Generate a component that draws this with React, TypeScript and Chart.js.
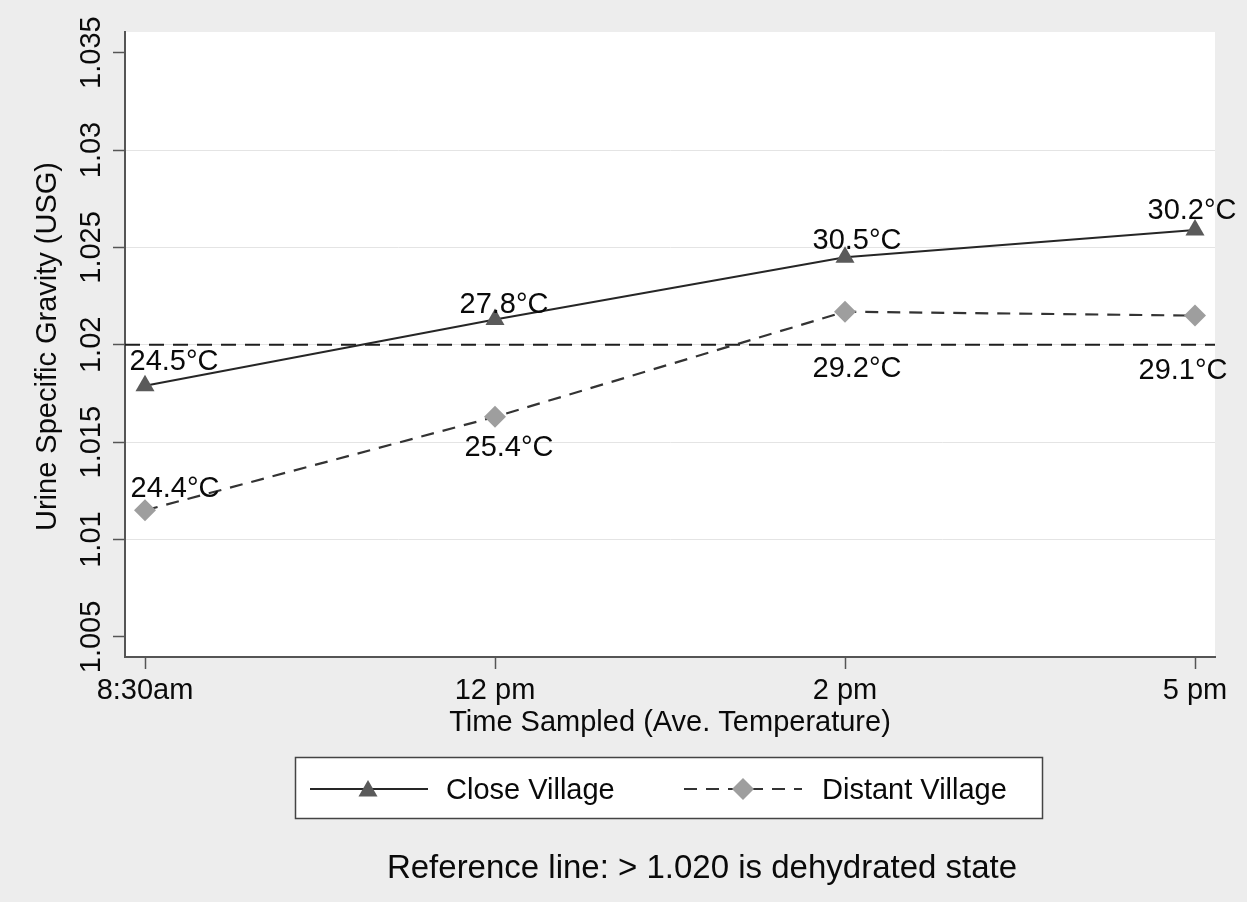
import React, { useEffect, useRef } from 'react';
import { Chart, registerables } from 'chart.js';

Chart.register(...registerables);

// ---------- data ----------
const categories = ['8:30am', '12 pm', '2 pm', '5 pm'];
const closeVillage = [1.0179, 1.0213, 1.0245, 1.0259];
const distantVillage = [1.0115, 1.0163, 1.0217, 1.0215];
const closeTemps = ['24.5°C', '27.8°C', '30.5°C', '30.2°C'];
const distantTemps = ['24.4°C', '25.4°C', '29.2°C', '29.1°C'];
const yTicks = [1.005, 1.01, 1.015, 1.02, 1.025, 1.03, 1.035];
const yTickLabels = ['1.005', '1.01', '1.015', '1.02', '1.025', '1.03', '1.035'];
const referenceValue = 1.02;
const seriesNames = ['Close Village', 'Distant Village'];
const xTitle = 'Time Sampled (Ave. Temperature)';
const yTitle = 'Urine Specific Gravity (USG)';
const noteText = 'Reference line: > 1.020 is dehydrated state';

// ---------- style ----------
const FONT = "'Liberation Sans', Arial, Helvetica, sans-serif";
const FS = 29;
const NOTE_FS = 33;
const BG = '#ededed';
const TEXT = '#0a0a0a';
const AXIS = '#555555';
const GRID = '#e4e4e4';
const CLOSE_LINE = '#262626';
const CLOSE_MARK = '#5a5a5a';
const DIST_LINE = '#333333';
const DIST_MARK = '#9e9e9e';
const SERIES_DASH = [13, 9];
const REF_DASH = [15, 9];
const closeLabelOffsets = [[29, -16], [9, -6], [12, -8], [-3, -11]];
const distantLabelOffsets = [[30, -13], [14, 39], [12, 65], [-12, 63]];

function drawTriangle(ctx: CanvasRenderingContext2D, x: number, y: number, r: number) {
  ctx.beginPath();
  for (let i = 0; i < 3; i++) {
    const a = (i * 2 * Math.PI) / 3;
    const px = x + Math.sin(a) * r;
    const py = y - Math.cos(a) * r;
    if (i === 0) ctx.moveTo(px, py);
    else ctx.lineTo(px, py);
  }
  ctx.closePath();
  ctx.fill();
}

function drawDiamond(ctx: CanvasRenderingContext2D, x: number, y: number, r: number) {
  ctx.beginPath();
  ctx.moveTo(x, y - r);
  ctx.lineTo(x + r, y);
  ctx.lineTo(x, y + r);
  ctx.lineTo(x - r, y);
  ctx.closePath();
  ctx.fill();
}

const decorPlugin = {
  id: 'decor',
  beforeDraw(chart: any) {
    const { ctx, chartArea: a, width, height } = chart;
    ctx.save();
    ctx.fillStyle = BG;
    ctx.fillRect(0, 0, width, height);
    ctx.fillStyle = '#ffffff';
    ctx.fillRect(a.left, a.top, a.right - a.left, a.bottom - a.top);
    ctx.restore();
  },
  beforeDatasetsDraw(chart: any) {
    const { ctx, chartArea: a } = chart;
    const y = chart.scales.y.getPixelForValue(referenceValue);
    ctx.save();
    ctx.strokeStyle = '#1e1e1e';
    ctx.lineWidth = 2;
    ctx.setLineDash(REF_DASH);
    ctx.beginPath();
    ctx.moveTo(a.left, y);
    ctx.lineTo(a.right, y);
    ctx.stroke();
    ctx.restore();
  },
  afterDraw(chart: any) {
    const { ctx, chartArea: a } = chart;
    const xs = chart.scales.x;
    const ys = chart.scales.y;
    ctx.save();
    ctx.fillStyle = TEXT;
    ctx.font = `${FS}px ${FONT}`;

    // point labels
    ctx.textAlign = 'center';
    ctx.textBaseline = 'alphabetic';
    const m0 = chart.getDatasetMeta(0).data;
    const m1 = chart.getDatasetMeta(1).data;
    m0.forEach((p: any, i: number) => {
      ctx.fillText(closeTemps[i], p.x + closeLabelOffsets[i][0], p.y + closeLabelOffsets[i][1]);
    });
    m1.forEach((p: any, i: number) => {
      ctx.fillText(distantTemps[i], p.x + distantLabelOffsets[i][0], p.y + distantLabelOffsets[i][1]);
    });

    // x tick labels
    categories.forEach((c, i) => {
      ctx.fillText(c, xs.getPixelForValue(i), a.bottom + 42);
    });
    // x title
    ctx.fillText(xTitle, (a.left + a.right) / 2, a.bottom + 74);

    // y tick labels (rotated)
    yTicks.forEach((v, i) => {
      ctx.save();
      ctx.translate(a.left - 25, ys.getPixelForValue(v));
      ctx.rotate(-Math.PI / 2);
      ctx.fillText(yTickLabels[i], 0, 0);
      ctx.restore();
    });
    // y title
    ctx.save();
    ctx.translate(a.left - 69, (a.top + a.bottom) / 2 + 2);
    ctx.rotate(-Math.PI / 2);
    ctx.fillText(yTitle, 0, 0);
    ctx.restore();

    // legend box
    const lx = 295, ly = 757, lw = 747, lh = 61;
    ctx.fillStyle = '#ffffff';
    ctx.fillRect(lx, ly, lw, lh);
    ctx.strokeStyle = '#444444';
    ctx.lineWidth = 1.5;
    ctx.strokeRect(lx + 0.5, ly + 0.5, lw, lh);
    const cy = ly + 32;
    // entry 1
    ctx.strokeStyle = CLOSE_LINE;
    ctx.lineWidth = 2;
    ctx.beginPath();
    ctx.moveTo(310, cy);
    ctx.lineTo(428, cy);
    ctx.stroke();
    ctx.fillStyle = CLOSE_MARK;
    drawTriangle(ctx, 368, cy + 2, 11);
    // entry 2
    ctx.strokeStyle = DIST_LINE;
    ctx.setLineDash(SERIES_DASH);
    ctx.beginPath();
    ctx.moveTo(684, cy);
    ctx.lineTo(802, cy);
    ctx.stroke();
    ctx.setLineDash([]);
    ctx.fillStyle = DIST_MARK;
    drawDiamond(ctx, 743, cy, 11);

    ctx.fillStyle = TEXT;
    ctx.textAlign = 'left';
    ctx.fillText(seriesNames[0], 446, cy + 10);
    ctx.fillText(seriesNames[1], 822, cy + 10);

    // note
    ctx.textAlign = 'center';
    ctx.font = `${NOTE_FS}px ${FONT}`;
    ctx.fillText(noteText, 702, 878);
    ctx.restore();
  },
};

export default function App() {
  const ref = useRef<HTMLCanvasElement | null>(null);

  useEffect(() => {
    if (!ref.current) return;
    const xMin = -20 / 350;
    const xMax = 3 + 20 / 350;
    const yMin = 1.00397;
    const yMax = 1.03606;
    const chart = new Chart(ref.current, {
      type: 'line',
      data: {
        datasets: [
          {
            label: seriesNames[0],
            data: closeVillage.map((v, i) => ({ x: i, y: v })),
            borderColor: CLOSE_LINE,
            borderWidth: 2,
            pointStyle: 'triangle',
            pointRadius: 11,
            pointBackgroundColor: CLOSE_MARK,
            pointBorderWidth: 0,
            tension: 0,
          },
          {
            label: seriesNames[1],
            data: distantVillage.map((v, i) => ({ x: i, y: v })),
            borderColor: DIST_LINE,
            borderWidth: 2.2,
            borderDash: SERIES_DASH,
            pointStyle: 'rectRot',
            pointRadius: 11,
            pointBackgroundColor: DIST_MARK,
            pointBorderWidth: 0,
            tension: 0,
          },
        ],
      },
      options: {
        responsive: false,
        maintainAspectRatio: false,
        animation: false,
        devicePixelRatio: 1,
        layout: { padding: { left: 113, top: 32, right: 32, bottom: 233 } },
        plugins: { legend: { display: false }, tooltip: { enabled: false } },
        scales: {
          x: {
            type: 'linear',
            min: xMin,
            max: xMax,
            afterBuildTicks: (s: any) => {
              s.ticks = categories.map((_, i) => ({ value: i }));
            },
            ticks: { display: false },
            grid: {
              drawOnChartArea: false,
              drawTicks: true,
              tickLength: 12,
              tickColor: AXIS,
              tickWidth: 1.5,
            },
            border: { display: true, color: AXIS, width: 2 },
          },
          y: {
            type: 'linear',
            min: yMin,
            max: yMax,
            afterBuildTicks: (s: any) => {
              s.ticks = yTicks.map((v) => ({ value: v }));
            },
            ticks: { display: false },
            grid: {
              color: (c: any) =>
                c.index === 0 || c.index === yTicks.length - 1 ? 'rgba(0,0,0,0)' : GRID,
              lineWidth: 1,
              drawTicks: true,
              tickLength: 12,
              tickColor: AXIS,
              tickWidth: 1.5,
            },
            border: { display: true, color: AXIS, width: 2 },
          },
        },
      },
      plugins: [decorPlugin],
    } as any);
    return () => chart.destroy();
  }, []);

  return (
    <div style={{ position: 'absolute', left: 0, top: 0, width: 1247, height: 902 }}>
      <canvas ref={ref} width={1247} height={902} style={{ width: 1247, height: 902, display: 'block' }} />
    </div>
  );
}
